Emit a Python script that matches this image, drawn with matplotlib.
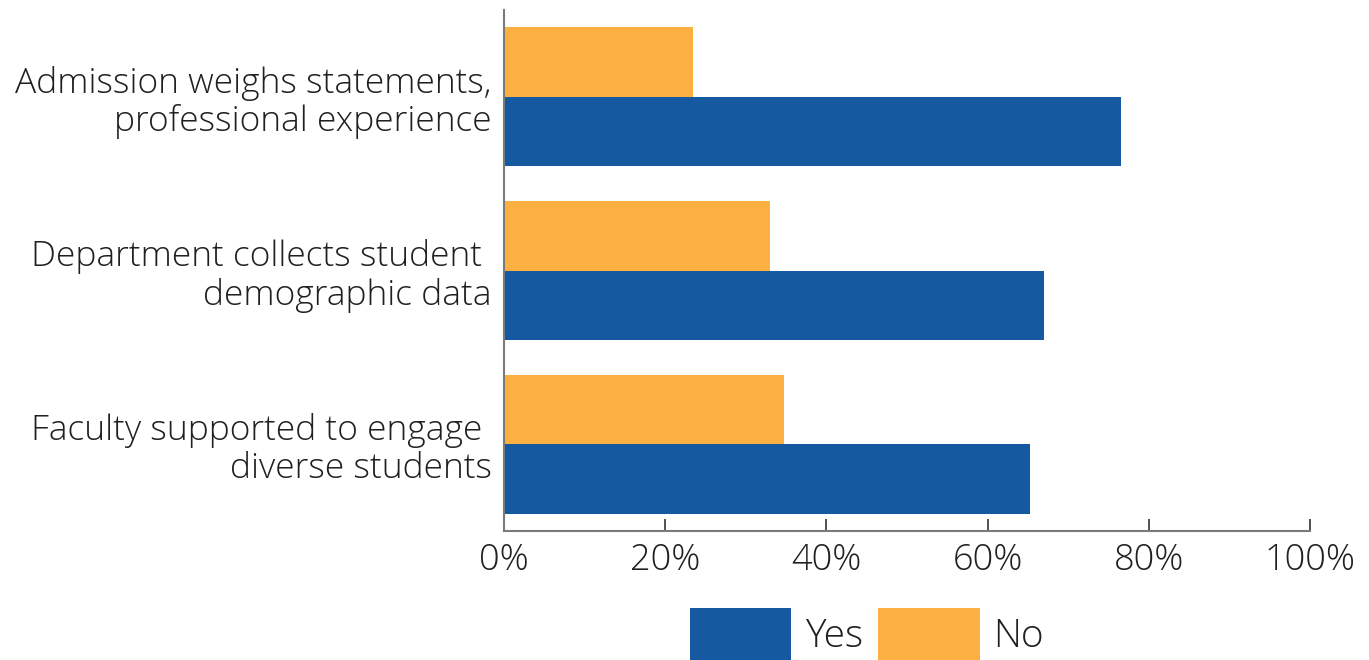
import matplotlib.pyplot as plt
import numpy as np

# Survey answers, share of respondents (%)
categories = [
    "Admission weighs statements,\nprofessional experience",
    "Department collects student \ndemographic data",
    "Faculty supported to engage \ndiverse students",
]
yes_pct = [76.5, 67.0, 65.3]
no_pct = [23.5, 33.0, 34.7]
tick_values = [0, 20, 40, 60, 80, 100]

BLUE = "#1559A0"
ORANGE = "#FBB041"
TEXT = "#231F20"

plt.rcParams['font.family'] = ['Open Sans', 'DejaVu Sans']

fig = plt.figure(figsize=(13.69, 6.6), dpi=100)
ax = fig.add_axes([504 / 1369, 1 - 531 / 660, (1310 - 504) / 1369, (531 - 10) / 660])

y = np.arange(len(categories))
h = 0.4
ax.barh(y - h / 2, no_pct, height=h, color=ORANGE, label="No")
ax.barh(y + h / 2, yes_pct, height=h, color=BLUE, label="Yes")

ax.set_xlim(0, 100)
ax.set_ylim(len(categories) - 0.5, -0.5)
ax.set_yticks(y)
ax.set_yticklabels(categories, fontsize=25.5, color=TEXT, linespacing=1.12,
                   fontweight='light')
ax.tick_params(axis='y', length=0, pad=9)

ax.set_xticks(tick_values)
ax.set_xticklabels([f"{v}%" for v in tick_values], fontsize=26, color=TEXT,
                   fontweight='light')
ax.tick_params(axis='x', direction='in', length=9, width=1.2, color="#333333", pad=8)

for side in ['top', 'right']:
    ax.spines[side].set_visible(False)
for side in ['left', 'bottom']:
    ax.spines[side].set_color("#7a7a7a")
    ax.spines[side].set_linewidth(1.5)

# Legend sits under the axis, Yes first; patches run off the bottom edge
handles, labels = ax.get_legend_handles_labels()
leg = fig.legend(handles[::-1], labels[::-1], loc='upper left',
                 bbox_to_anchor=(690 / 1369, 1 - 608 / 660), ncol=2, frameon=False,
                 prop={'size': 28, 'weight': 'light'}, handlelength=2.6,
                 handleheight=1.75, handletextpad=0.36, columnspacing=0.39,
                 borderpad=0, borderaxespad=0, labelcolor=TEXT)

fig.savefig("out.png", dpi=100)
